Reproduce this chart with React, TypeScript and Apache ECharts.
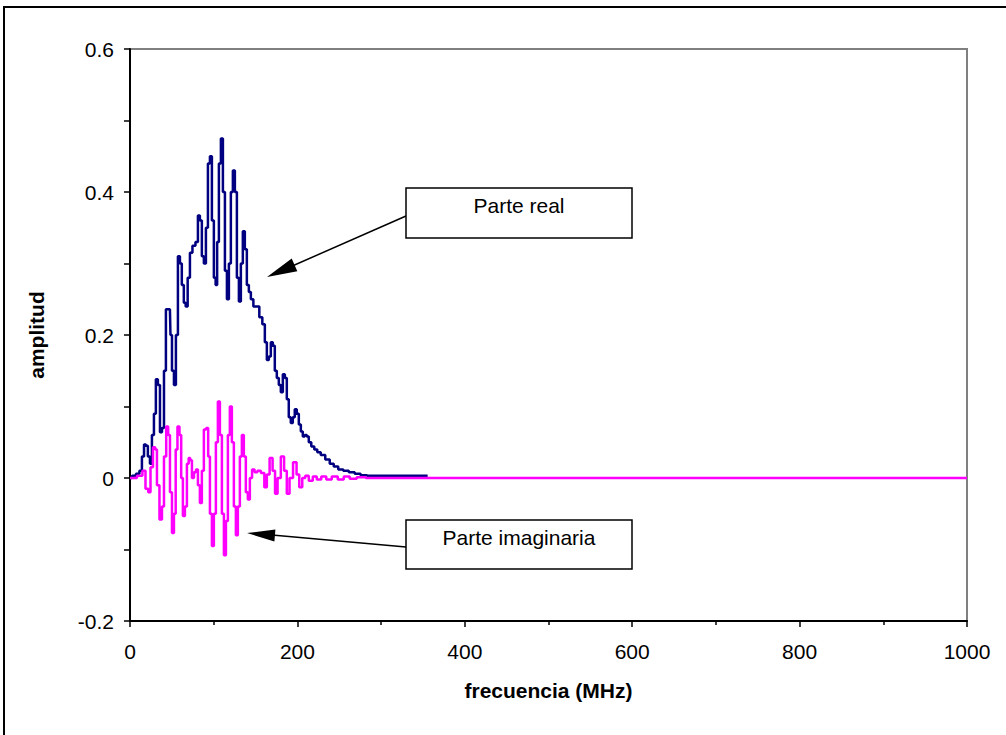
import React, { useEffect, useRef } from "react";
import * as echarts from "echarts";

// Frequency (MHz) and amplitude of the real part
const freqReal = [0, 4.8, 9.5, 13, 15.5, 18, 20, 22.7, 25, 27.4, 29.8, 32, 34.6, 37, 39.4, 41.8, 44, 47.7, 49, 51.3, 53.7, 56, 58.5, 60.8, 63, 65.6, 67.4, 70.4, 72.8, 76.4, 80, 82.3, 84.7, 87, 89.5, 91.9, 94.3, 96.7, 99, 101.4, 103.2, 105, 107.4, 109.8, 112.2, 114.6, 117, 119.3, 121.7, 124.1, 126.5, 128.9, 131.3, 133.6, 136, 138.4, 140.8, 143.2, 145.6, 149.2, 152.7, 156.3, 159.9, 162.3, 164.7, 167, 169.5, 171.8, 174.2, 176.6, 179, 181.4, 183.8, 186.2, 188.5, 190.9, 193.3, 195.7, 198, 200.5, 202.9, 205.3, 207.6, 210, 212.4, 214.8, 218.4, 222, 225.5, 230.3, 236.3, 241, 245.8, 251.8, 257.8, 265, 272, 279, 287.6, 355.6];
const ampReal = [0, 0.003, 0.006, 0.01, 0.03, 0.047, 0.045, 0.03, 0.02, 0.06, 0.09, 0.138, 0.13, 0.064, 0.07, 0.15, 0.236, 0.236, 0.2, 0.15, 0.13, 0.2, 0.31, 0.3, 0.27, 0.245, 0.24, 0.28, 0.315, 0.325, 0.33, 0.367, 0.36, 0.31, 0.3, 0.35, 0.44, 0.45, 0.36, 0.28, 0.27, 0.33, 0.44, 0.475, 0.4, 0.29, 0.25, 0.3, 0.4, 0.43, 0.4, 0.28, 0.247, 0.3, 0.345, 0.32, 0.27, 0.26, 0.25, 0.24, 0.24, 0.225, 0.215, 0.19, 0.165, 0.17, 0.19, 0.185, 0.15, 0.14, 0.13, 0.12, 0.145, 0.14, 0.11, 0.085, 0.077, 0.085, 0.096, 0.09, 0.075, 0.065, 0.058, 0.06, 0.058, 0.05, 0.044, 0.04, 0.036, 0.032, 0.026, 0.02, 0.016, 0.012, 0.01, 0.008, 0.006, 0.004, 0.003, 0.003];

// Frequency (MHz) and amplitude of the imaginary part
const freqImag = [0, 3.6, 13, 16.7, 20.3, 23.3, 25.7, 29.2, 31, 33.4, 37, 39.4, 41.8, 44.7, 46.5, 49, 51.3, 53.7, 55.5, 57.9, 60.3, 62, 64.4, 66.8, 69.2, 71, 72.8, 75.2, 77.6, 80, 82.3, 84.7, 87, 89.5, 92.5, 94.3, 96.7, 99, 101.4, 103.8, 106.2, 108.6, 111, 113.4, 115.8, 118.1, 120.5, 122.9, 125.3, 127.7, 130, 132.5, 134.8, 137.2, 139.6, 142, 144.4, 147.3, 150.4, 154, 158.7, 162.3, 164.7, 168.9, 171.8, 174.8, 177.8, 182.6, 185.6, 189.1, 192.1, 197.5, 200.5, 204, 207.6, 211.2, 216, 220.8, 225.5, 231.5, 237.5, 244.6, 251.8, 259, 266, 275.7, 287.6, 1000];
const ampImag = [0, 0, 0.003, 0.01, -0.015, -0.02, 0.015, 0.043, 0.04, -0.01, -0.058, -0.04, 0.03, 0.072, 0.06, -0.02, -0.077, -0.05, 0.04, 0.072, 0.06, 0, -0.053, -0.04, 0.02, 0.028, 0.025, 0, 0.008, 0.012, -0.01, -0.035, 0.01, 0.068, 0.07, 0.03, -0.05, -0.095, -0.05, 0.05, 0.107, 0.06, -0.05, -0.108, -0.06, 0.06, 0.1, 0.05, -0.04, -0.08, -0.04, 0.03, 0.06, 0.03, -0.02, -0.03, 0, 0.012, 0.008, 0.01, 0.007, -0.013, 0.005, 0.028, 0.01, -0.022, 0, 0.03, 0.01, -0.022, 0, 0.022, 0.005, -0.013, 0, 0.003, -0.004, 0.002, -0.002, 0.002, -0.002, 0.002, -0.002, 0.002, -0.001, 0.001, 0, 0];

const yTicks = [-0.2, 0, 0.2, 0.4, 0.6];
const xTicks = [0, 200, 400, 600, 800, 1000];

const FONT = "'Liberation Sans', Arial, sans-serif";

export default function App() {
  const ref = useRef<HTMLDivElement>(null);
  useEffect(() => {
    if (!ref.current) return;
    const chart = echarts.init(ref.current, null, { renderer: "svg" });
    const realData = freqReal.map((f, i) => [f, ampReal[i]]);
    const imagData = freqImag.map((f, i) => [f, ampImag[i]]);
    chart.setOption({
      animation: false,
      backgroundColor: "#ffffff",
      grid: {
        left: 130,
        top: 49,
        right: 39,
        bottom: 114,
        show: true,
        borderColor: "#808080",
        borderWidth: 2,
        backgroundColor: "transparent",
      },
      xAxis: {
        type: "value",
        min: xTicks[0],
        max: xTicks[xTicks.length - 1],
        interval: 200,
        name: "frecuencia (MHz)",
        nameLocation: "middle",
        nameGap: 59,
        nameTextStyle: { fontFamily: FONT, fontSize: 21, fontWeight: "bold", color: "#000" },
        axisLine: { show: true, onZero: false, lineStyle: { color: "#000", width: 2 } },
        axisTick: { show: true, length: 6, lineStyle: { color: "#000", width: 1.5 } },
        minorTick: { show: true, splitNumber: 2, length: 4, lineStyle: { color: "#000", width: 1.5 } },
        splitLine: { show: false },
        axisLabel: {
          fontFamily: FONT,
          fontSize: 21,
          color: "#000",
          margin: 20,
          formatter: (v: number) => String(v),
        },
      },
      yAxis: {
        type: "value",
        min: yTicks[0],
        max: yTicks[yTicks.length - 1],
        interval: 0.2,
        name: "amplitud",
        nameLocation: "middle",
        nameGap: 83,
        nameTextStyle: { fontFamily: FONT, fontSize: 21, fontWeight: "bold", color: "#000" },
        axisLine: { show: true, onZero: false, lineStyle: { color: "#000", width: 2 } },
        axisTick: { show: true, length: 6, lineStyle: { color: "#000", width: 1.5 } },
        minorTick: { show: true, splitNumber: 2, length: 6, lineStyle: { color: "#000", width: 1.5 } },
        splitLine: { show: false },
        axisLabel: {
          fontFamily: FONT,
          fontSize: 21,
          color: "#000",
          margin: 16,
          formatter: (v: number) => String(Math.round(v * 10) / 10),
        },
      },
      series: [
        {
          name: "Parte real",
          type: "line",
          step: "middle",
          data: realData,
          showSymbol: false,
          lineStyle: { color: "#000080", width: 2.5 },
          itemStyle: { color: "#000080" },
          z: 2,
        },
        {
          name: "Parte imaginaria",
          type: "line",
          step: "middle",
          data: imagData,
          showSymbol: false,
          lineStyle: { color: "#ff00ff", width: 2.5 },
          itemStyle: { color: "#ff00ff" },
          z: 3,
        },
      ],
      graphic: [
        {
          type: "rect",
          shape: { x: 4, y: 7, width: 1020, height: 760 },
          style: { fill: "none", stroke: "#000", lineWidth: 2 },
          silent: true,
        },
        // Arrow to real part
        {
          type: "line",
          shape: { x1: 406, y1: 216, x2: 290, y2: 267 },
          style: { stroke: "#000", lineWidth: 1.5 },
          z: 10,
        },
        {
          type: "polygon",
          shape: { points: [[267, 277], [297.3, 271.3], [291.7, 258.5]] },
          style: { fill: "#000" },
          z: 10,
        },
        // Arrow to imaginary part
        {
          type: "line",
          shape: { x1: 406, y1: 547, x2: 272, y2: 535 },
          style: { stroke: "#000", lineWidth: 1.5 },
          z: 10,
        },
        {
          type: "polygon",
          shape: { points: [[247, 533], [275.4, 529.5], [274.4, 541.5]] },
          style: { fill: "#000" },
          z: 10,
        },
        // Label boxes
        {
          type: "rect",
          shape: { x: 406, y: 188, width: 226, height: 50 },
          style: { fill: "#fff", stroke: "#000", lineWidth: 1.5 },
          z: 11,
        },
        {
          type: "text",
          x: 519,
          y: 205,
          style: {
            text: "Parte real",
            fontFamily: FONT,
            fontSize: 21,
            fill: "#000",
            align: "center",
            verticalAlign: "middle",
          },
          z: 12,
        },
        {
          type: "rect",
          shape: { x: 406, y: 520, width: 226, height: 49 },
          style: { fill: "#fff", stroke: "#000", lineWidth: 1.5 },
          z: 11,
        },
        {
          type: "text",
          x: 519,
          y: 537,
          style: {
            text: "Parte imaginaria",
            fontFamily: FONT,
            fontSize: 21,
            fill: "#000",
            align: "center",
            verticalAlign: "middle",
          },
          z: 12,
        },
      ],
    });
    return () => chart.dispose();
  }, []);
  return (
    <div
      ref={ref}
      style={{ position: "absolute", left: 0, top: 0, width: 1006, height: 735 }}
    />
  );
}
